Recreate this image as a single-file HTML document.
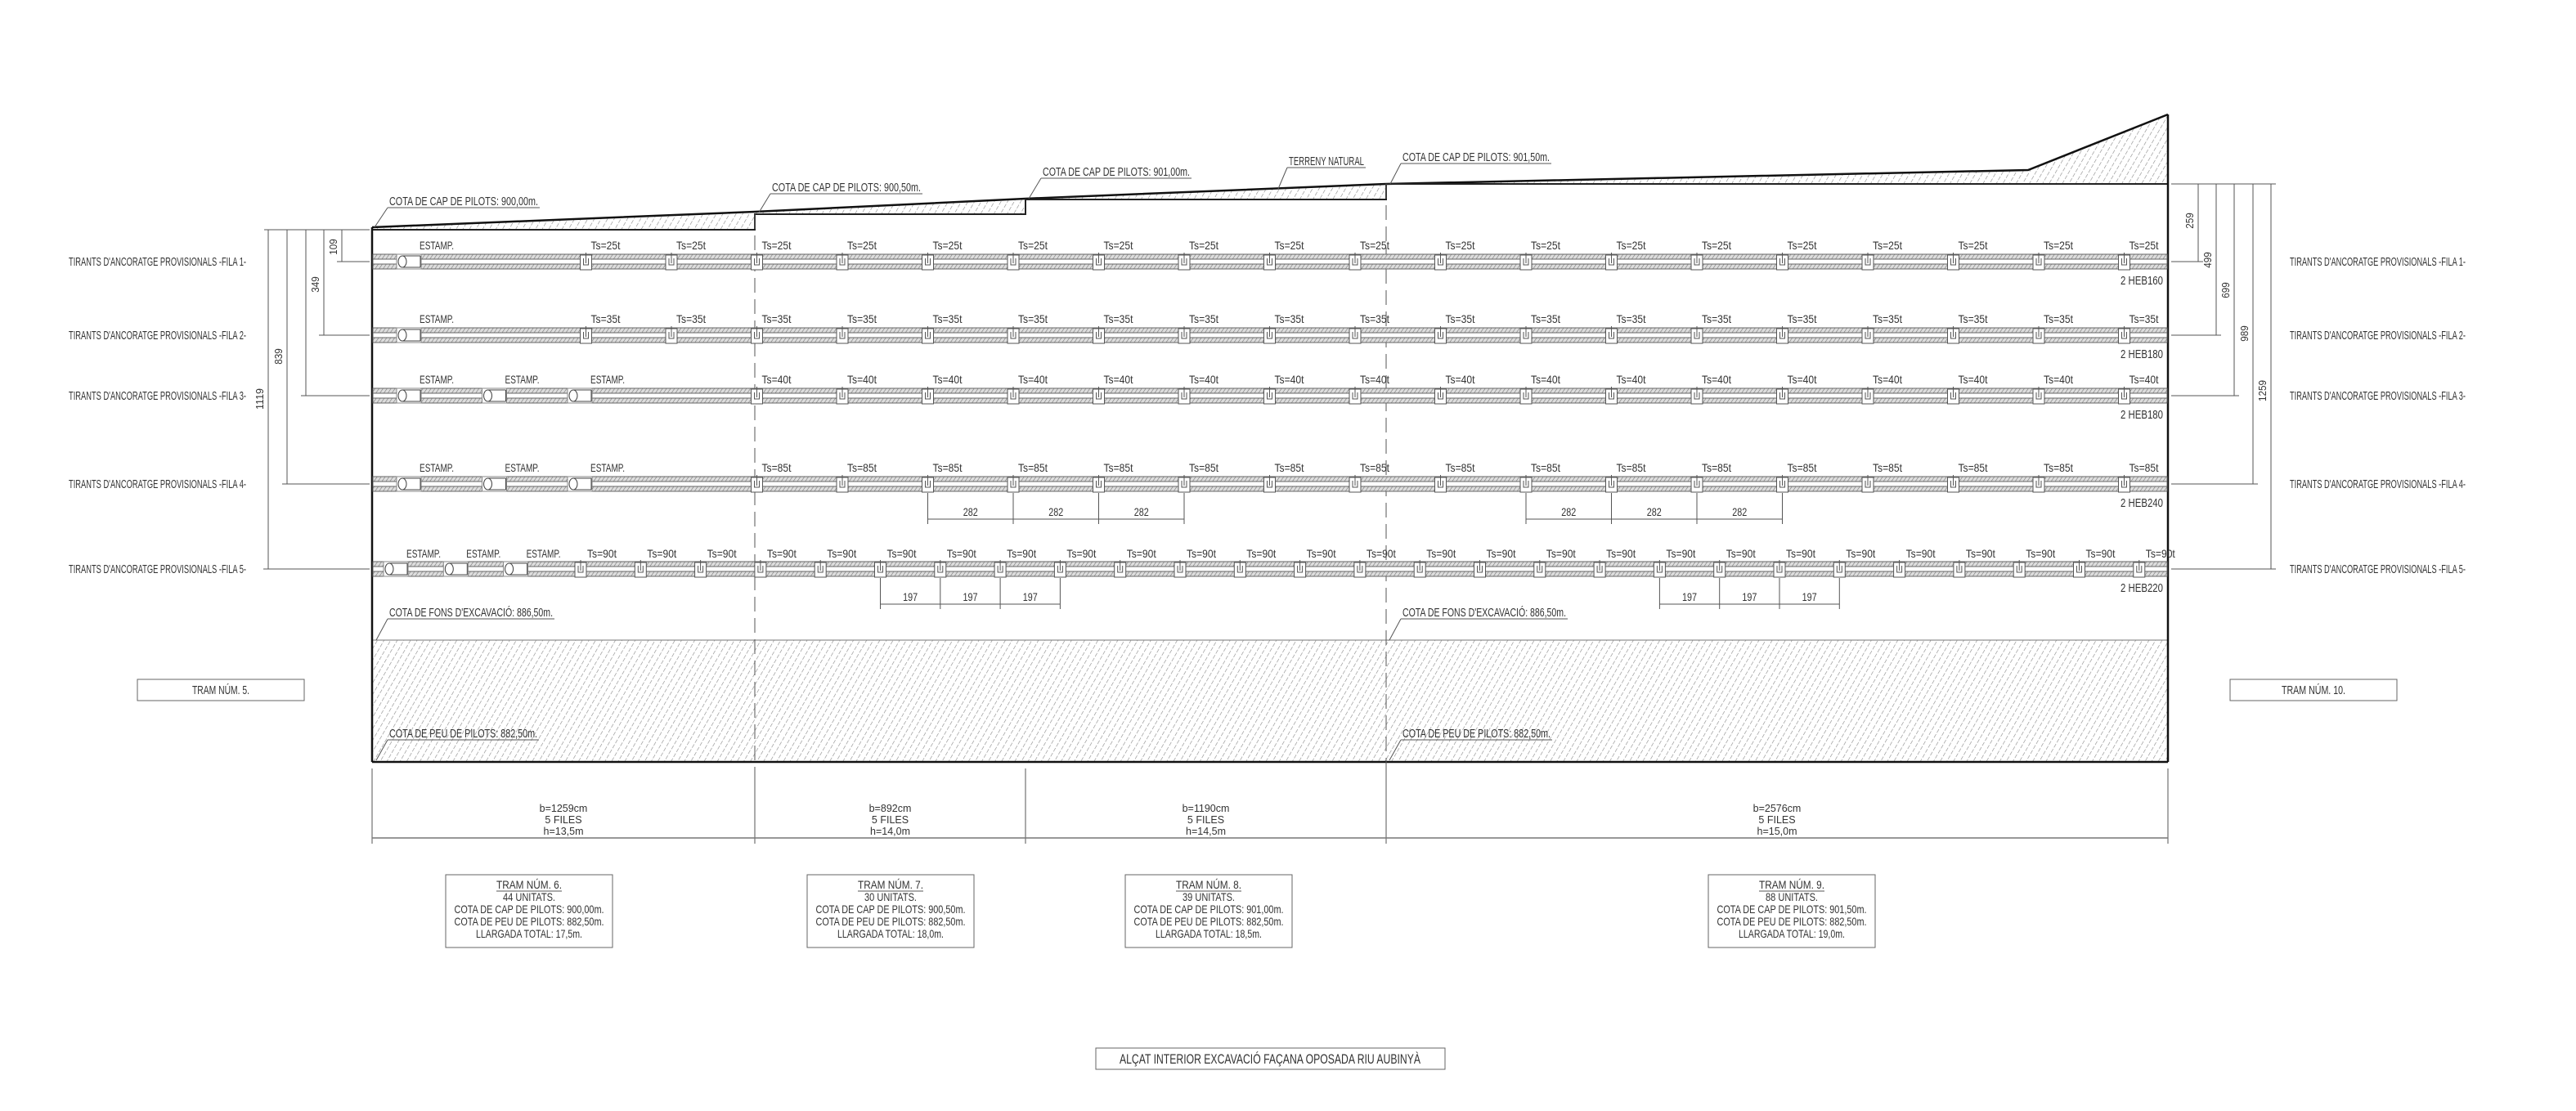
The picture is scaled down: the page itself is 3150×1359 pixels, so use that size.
<!DOCTYPE html>
<html><head><meta charset="utf-8">
<style>
html,body{margin:0;padding:0;background:#fff;}
svg{display:block;}
text{font-family:"Liberation Sans",sans-serif;fill:#333;}
</style></head>
<body>
<svg id="s" width="3150" height="1359" viewBox="0 0 3150 1359" xmlns="http://www.w3.org/2000/svg">
<defs>
<pattern id="h" width="7" height="7" patternUnits="userSpaceOnUse" patternTransform="rotate(30)">
<rect width="7" height="7" fill="#fff"/>
<line x1="0" y1="0" x2="0" y2="7" stroke="#888" stroke-width="1.2" stroke-dasharray="5 2"/>
</pattern>
<pattern id="hb" width="4" height="4" patternUnits="userSpaceOnUse" patternTransform="rotate(35)">
<rect width="4" height="4" fill="#ddd"/>
<line x1="0" y1="0" x2="0" y2="4" stroke="#777" stroke-width="1.2"/>
</pattern>
</defs>
<g id="g"></g>
</svg>
<script>
var o=[];
function L(x1,y1,x2,y2,c,w,d){o.push('<line x1="'+x1+'" y1="'+y1+'" x2="'+x2+'" y2="'+y2+'" stroke="'+(c||'#555')+'" stroke-width="'+(w||1)+'"'+(d?' stroke-dasharray="'+d+'"':'')+'/>');}
function T(x,y,s,fs,anc,len,rot){var a='<text x="'+x+'" y="'+y+'" font-size="'+(fs||12)+'" text-anchor="'+(anc||'start')+'"';if(len)a+=' textLength="'+len+'" lengthAdjust="spacingAndGlyphs"';if(rot)a+=' transform="rotate(-90 '+x+' '+y+')"';o.push(a+'>'+s+'</text>');}
function R(x,y,w,h,f,c,sw){o.push('<rect x="'+x+'" y="'+y+'" width="'+w+'" height="'+h+'" fill="'+(f||'none')+'" stroke="'+(c||'#555')+'" stroke-width="'+(sw||1)+'"/>');}
function P(d,f,c,w){o.push('<path d="'+d+'" fill="'+(f||'none')+'" stroke="'+(c||'none')+'" stroke-width="'+(w||1)+'"/>');}
// ground hatches
P('M455,279 L923,259 L923,281 L455,281Z','url(#h)');
P('M923,259 L1254,243 L1254,262 L923,262Z','url(#h)');
P('M1254,243 L1695,226 L1695,244 L1254,244Z','url(#h)');
P('M1695,225 L2480,208 L2651,140 L2651,225 L1695,225Z','url(#h)');
R(455,783,2196,149,'url(#h)','#777',1);
P('M455,278 L923,259 L1254,243 L1695,225 L2480,208 L2651,140','none','#111',2.5);
P('M455,281 L923,281 L923,262 L1254,262 L1254,244 L1695,244 L1695,225 L2651,225','none','#222',2);
L(455,278,455,932,'#111',2.5);L(2651,140,2651,932,'#111',2.5);L(455,932,2651,932,'#111',2.5);
L(923,262,923,1030,'#555',1,'18 8');L(1695,225,1695,1030,'#555',1,'18 8');
function lab(x,y,s,len,lx,ly){T(x,y,s,14.5,'start',len);L(x-2,y+3,x+len+2,y+3,'#555',1);L(x-2,y+3,lx,ly,'#555',1);}
lab(476,251,'COTA DE CAP DE PILOTS: 900,00m.',182,458,278);
lab(944,234,'COTA DE CAP DE PILOTS: 900,50m.',182,928,260);
lab(1275,215,'COTA DE CAP DE PILOTS: 901,00m.',180,1258,243);
lab(1576,202,'TERRENY NATURAL',92,1563,231);
lab(1715,197,'COTA DE CAP DE PILOTS: 901,50m.',180,1700,225);
lab(476,754,"COTA DE FONS D'EXCAVACIÓ: 886,50m.",200,460,783);
lab(1715,754,"COTA DE FONS D'EXCAVACIÓ: 886,50m.",200,1699,783);
lab(476,902,'COTA DE PEU DE PILOTS: 882,50m.',181,460,930);
lab(1715,902,'COTA DE PEU DE PILOTS: 882,50m.',181,1699,930);
function beam(y){R(456,y-9,2194,18,'url(#hb)','#666',1);R(456,y-3,2194,6,'#fff','#666',1);}
function anchor(x,y){R(x-7,y-8,14,18,'#fff','#555',1);P('M'+(x-3)+','+(y-4)+' L'+(x-3)+','+(y+4)+' L'+(x+3)+','+(y+4)+' L'+(x+3)+','+(y-4),'none','#555',1);L(x,y-11,x,y+2,'#555',1);}
function stamp(x,y){R(x-15,y-9,30,18,'#fff','#888',1);o.push('<ellipse cx="'+(x-8)+'" cy="'+y+'" rx="5" ry="7" fill="#fff" stroke="#444"/>');L(x-8,y-7,x+14,y-7,'#444');L(x-8,y+7,x+14,y+7,'#444');L(x+14,y-7,x+14,y+7,'#444');}
var rows=[
 {y:320,t:'25',st:1,heb:'2 HEB160'},
 {y:410,t:'35',st:1,heb:'2 HEB180'},
 {y:484,t:'40',st:3,heb:'2 HEB180'},
 {y:592,t:'85',st:3,heb:'2 HEB240'}];
rows.forEach(function(r){beam(r.y);
 for(var k=0;k<r.st;k++){var x=500+104.5*k;stamp(x,r.y);T(x+34,r.y-15,'ESTAMP.',14,'middle',42);}
 for(var k=r.st;k<20;k++){var x=612+104.5*k;anchor(x,r.y);T(x+24,r.y-15,'Ts='+r.t+'t',14,'middle',36);}
 T(2645,r.y+28,r.heb,14.5,'end',52);});
var y5=696;beam(y5);
for(var k=0;k<3;k++){var x=484+73.3*k;stamp(x,y5);T(x+34,y5-14,'ESTAMP.',14,'middle',42);}
for(var k=0;k<27;k++){var x=710+73.3*k;anchor(x,y5);T(x+26,y5-14,'Ts=90t',14,'middle',36);}
T(2645,y5+28,'2 HEB220',14.5,'end',52);
function sd(xs,yb,yd,lbl){for(var i=0;i<xs.length;i++)L(xs[i],yb,xs[i],yd+6,'#555',1);L(xs[0],yd,xs[xs.length-1],yd,'#555',1);for(var i=0;i<xs.length-1;i++)T((xs[i]+xs[i+1])/2,yd-4,lbl,14,'middle',18);}
function arr(a,b){var r=[];for(var k=a;k<=b;k++)r.push(612+104.5*k);return r;}
sd(arr(5,8),603,635,'282');sd(arr(12,15),603,635,'282');
function arr5(a,b){var r=[];for(var k=a;k<=b;k++)r.push(710+73.3*k);return r;}
sd(arr5(5,8),707,739,'197');sd(arr5(18,21),707,739,'197');
var ys=[320,410,484,592,696];
ys.forEach(function(y,i){T(84,y+5,"TIRANTS D'ANCORATGE PROVISIONALS -FILA "+(i+1)+"-",14.5,'start',217);T(2800,y+5,"TIRANTS D'ANCORATGE PROVISIONALS -FILA "+(i+1)+"-",14.5,'start',215);});
L(323,281,452,281,'#555');
var lx=[418,396,374,351,328],ll=['109','349','','839','1119'],ly=[302,348,0,436,488];
lx.forEach(function(x,i){var y=ys[i];L(x,281,x,y,'#555');L(x-6,y,452,y,'#555');if(ll[i])T(x-6,ly[i],ll[i],13,'middle',ll[i].length*6.5,1);});
L(2655,225,2783,225,'#555');
var rx=[2688,2710,2732,2755,2777],rl=['259','499','699','989','1259'],rly=[270,318,355,408,478];
rx.forEach(function(x,i){var y=ys[i];L(x,225,x,y,'#555');L(2655,y,x+6,y,'#555');T(x-6,rly[i],rl[i],13,'middle',rl[i].length*6.5,1);});
var bx=[455,923,1254,1695,2651];
bx.forEach(function(x){L(x,940,x,1032,'#555');});
L(455,1025,2651,1025,'#777',1.5);
var bt=[['b=1259cm','h=13,5m'],['b=892cm','h=14,0m'],['b=1190cm','h=14,5m'],['b=2576cm','h=15,0m']];
for(var i=0;i<4;i++){var cx=(bx[i]+bx[i+1])/2;T(cx,993,bt[i][0],12.5,'middle');T(cx,1007,'5 FILES',12.5,'middle');T(cx,1021,bt[i][1],12.5,'middle');}
var tb=[[545,'6','44','900,00','17,5'],[987,'7','30','900,50','18,0'],[1376,'8','39','901,00','18,5'],[2089,'9','88','901,50','19,0']];
tb.forEach(function(b){var x=b[0],cx=x+102;R(x,1070,204,89,'#fff','#666',1);
 T(cx,1087,'TRAM NÚM. '+b[1]+'.',14,'middle',80);L(cx-40,1090,cx+40,1090,'#555');
 T(cx,1102,b[2]+' UNITATS.',14,'middle',64);
 T(cx,1117,'COTA DE CAP DE PILOTS: '+b[3]+'m.',14,'middle',183);
 T(cx,1132,'COTA DE PEU DE PILOTS: 882,50m.',14,'middle',183);
 T(cx,1147,'LLARGADA TOTAL: '+b[4]+'m.',14,'middle',130);});
R(168,831,204,26,'#fff','#666',1);T(270,849,'TRAM NÚM. 5.',14.5,'middle',70);
R(2727,831,204,26,'#fff','#666',1);T(2829,849,'TRAM NÚM. 10.',14.5,'middle',78);
R(1340,1282,427,26,'#fff','#666',1);T(1553,1301,'ALÇAT INTERIOR EXCAVACIÓ FAÇANA OPOSADA RIU AUBINYÀ',16.5,'middle',368);
document.getElementById('g').innerHTML=o.join('');
</script>
</body></html>
